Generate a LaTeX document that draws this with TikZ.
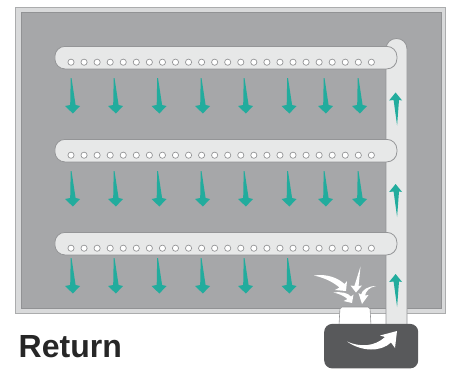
\documentclass[tikz,border=0pt]{standalone}
\usepackage{fontspec}
\setmainfont{Liberation Sans}
\definecolor{framelight}{HTML}{D9DADB}
\definecolor{frameedge}{HTML}{ABACAD}
\definecolor{fieldgrey}{HTML}{A6A7A9}
\definecolor{fieldedge}{HTML}{919294}
\definecolor{ductfill}{HTML}{E7E8E8}
\definecolor{ductedge}{HTML}{949597}
\definecolor{teal}{HTML}{22AC9D}
\definecolor{boxdark}{HTML}{58595B}
\tikzset{
  frameouter/.style={draw=frameedge,fill=framelight,line width=.8pt},
  frameinner/.style={draw=fieldedge,fill=fieldgrey,line width=.8pt},
  duct/.style={draw=ductedge,fill=ductfill,line width=.8pt},
  hole/.style={circle,draw=ductedge,fill=white,line width=.7pt,minimum size=6.2pt,inner sep=0pt},
  tealarrow/.style={fill=teal,draw=none},
  whitearrow/.style={fill=white,draw=none},
}
\newcommand{\downarrowshape}[2]{%
  \fill[tealarrow] (#1-0.3,#2) -- (#1+0.5,#2) -- (#1+4.6,#2+27) -- (#1+9,#2+28) -- (#1+1.9,#2+35.5)
   -- (#1-6,#2+28) -- (#1-0.8,#2+27) -- cycle;}
\newcommand{\uparrowshape}[2]{%
  \fill[tealarrow] (#1,#2) -- (#1+6.5,#2+8) -- (#1+3.4,#2+7.5) -- (#1+1.5,#2+33) -- (#1-2,#2+7.5) -- (#1-6.5,#2+8) -- cycle;}
\begin{document}
\begin{tikzpicture}[x=1pt,y=-1pt]
\useasboundingbox (0,0) rectangle (451,368);
\fill[white] (0,0) rectangle (451,368);
\path[frameouter] (15.7,7.2) rectangle (445.7,313);
\path[frameinner] (21.8,12.8) rectangle (441,308);
% riser
\path[duct] (386,326) -- (386,49) .. controls (386,43) and (390.5,38.5) .. (396.5,38.5) .. controls (402.5,38.5) and (407,43) .. (407,49) -- (407,326);
% supply ducts
\foreach \y/\nm in {46/a,139/b,232/c}{
  \node[duct,rounded corners=10pt,minimum width=342pt,minimum height=22.5pt,inner sep=0pt,anchor=north west] (duct\nm) at (54.5,\y) {};
  \foreach \i in {0,...,23}{
    \node[hole] (hole\nm\i) at ({71+\i*13.06},\y+16.2) {};
  }
}
% inlet
\path[draw=ductedge,fill=white,line width=.6pt,rounded corners=2pt] (339,326) -- (340,307) -- (370,307) -- (371,326);
% dark box
\node[fill=boxdark,rounded corners=8pt,minimum width=94pt,minimum height=44.5pt,inner sep=0pt,anchor=north west] (unit) at (324,323.7) {};
% arrows
\foreach \x in {71,114,157.5,201,244,287.5,324,358}{
  \downarrowshape{\x}{78}
  \downarrowshape{\x}{171}
}
\foreach \x in {71,114,157.5,201,244,287.5}{
  \downarrowshape{\x}{258}
}
\uparrowshape{395.6}{92.5}
\uparrowshape{395.6}{184}
\uparrowshape{395.6}{274}
% white intake arrows
\fill[whitearrow] (314,275.5) .. controls (327,273.5) and (338,278) .. (344.5,284) -- (347,281) -- (346,291) -- (335,290) -- (339.5,287.5) .. controls (333,282) and (325,278) .. (314,275.5) -- cycle;
\fill[whitearrow] (333.5,292.5) .. controls (342,291.5) and (348,293) .. (351,296.5) -- (353.5,294.5) -- (352,303) -- (343.5,301) -- (347.5,299) .. controls (344,296) and (340,294) .. (333.5,292.5) -- cycle;
\fill[whitearrow] (360.5,266.5) -- (358.6,286) -- (362,285.5) -- (356,292.5) -- (350.5,285.5) -- (354.4,286) -- cycle;
\fill[whitearrow] (376,286) .. controls (369,287.5) and (366,291) .. (365,295.5) -- (368.5,295) -- (362,304) -- (358.5,293) -- (361,294.5) .. controls (362,290) and (368,286) .. (376,286) -- cycle;
% fan arrow
\fill[whitearrow] (347,341.5) .. controls (360,347.5) and (375,346.5) .. (385,337) -- (380,335.5) -- (397,331) -- (395,348) -- (391,342.5) .. controls (381,352) and (362,352) .. (347,341.5) -- cycle;
\node[text=black!85,font=\fontsize{32}{32}\bfseries,anchor=base west,inner sep=0pt] (label) at (18.5,357) {Return};
\end{tikzpicture}
\end{document}
